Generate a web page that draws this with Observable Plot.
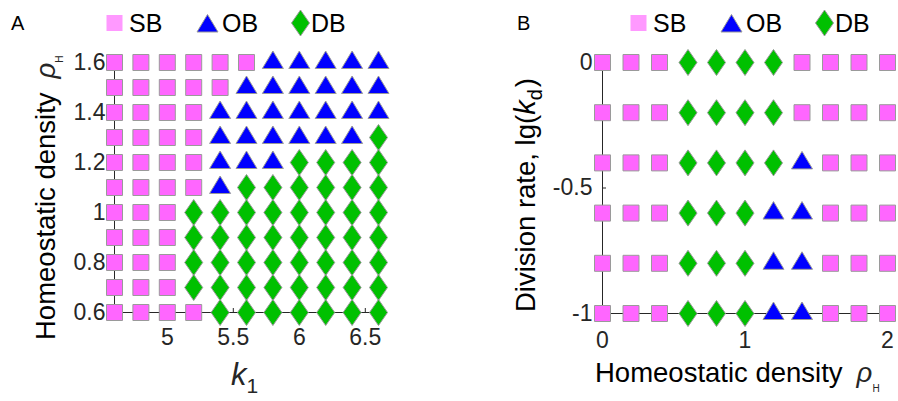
<!DOCTYPE html>
<html><head><meta charset="utf-8">
<script src="https://cdn.jsdelivr.net/npm/d3@7"></script>
<script src="https://cdn.jsdelivr.net/npm/@observablehq/plot@0.6"></script>
<style>
body{margin:0;background:#fff;}
#wrap{position:relative;width:898px;height:401px;overflow:hidden;}
#wrap svg{position:absolute;top:0;}
</style></head><body><div id="wrap"></div>
<script>
// ---------- data ----------
const classNames = ["SB", "OB", "DB"];
const classCodes = {S: "SB", O: "OB", D: "DB"};

// Panel A: k1 (columns) x homeostatic density (rows, top to bottom)
const k1Values = [4.6, 4.8, 5.0, 5.2, 5.4, 5.6, 5.8, 6.0, 6.2, 6.4, 6.6];
const rhoRowsA = [1.6, 1.5, 1.4, 1.3, 1.2, 1.1, 1.0, 0.9, 0.8, 0.7, 0.6];
const gridA = [
  "SSSSSSOOOOO",
  "SSSSSOOOOOO",
  "SSSSOOOOOOO",
  "SSSSOOOOOOD",
  "SSSSOOODDDD",
  "SSSSODDDDDD",
  "SSSDDDDDDDD",
  "SSSDDDDDDDD",
  "SSSDDDDDDDD",
  "SSSDDDDDDDD",
  "SSSSDDDDDDD"
];
const xTicksA = [5, 5.5, 6, 6.5];
const yTicksA = [0.6, 0.8, 1, 1.2, 1.4, 1.6];

// Panel B: homeostatic density (columns) x lg(kd) (rows, top to bottom)
const rhoValuesB = [0, 0.2, 0.4, 0.6, 0.8, 1.0, 1.2, 1.4, 1.6, 1.8, 2.0];
const lgkdRowsB = [0, -0.2, -0.4, -0.6, -0.8, -1.0];
const gridB = [
  "SSSDDDDSSSS",
  "SSSDDDDSSSS",
  "SSSDDDDOSSS",
  "SSSDDDOOSSS",
  "SSSDDDOOSSS",
  "SSSDDDOOSSS"
];
const xTicksB = [0, 1, 2];
const yTicksB = [-1, -0.5, 0];

// ---------- helpers ----------
function toRecords(cols, rows, grid) {
  const out = [];
  rows.forEach((y, i) => cols.forEach((x, j) => out.push({x, y, cls: classCodes[grid[i][j]]})));
  return out;
}
const dataA = toRecords(k1Values, rhoRowsA, gridA);
const dataB = toRecords(rhoValuesB, lgkdRowsB, gridB);

const symSquare = {draw(c) { const h = 8; c.moveTo(-h, -h); c.lineTo(h, -h); c.lineTo(h, h); c.lineTo(-h, h); c.closePath(); }};
const symTriangle = {draw(c) { c.moveTo(0, -11.5); c.lineTo(10.5, 6); c.lineTo(-10.5, 6); c.closePath(); }};
const symDiamond = {draw(c) { c.moveTo(0, -13); c.lineTo(9, 0); c.lineTo(0, 13); c.lineTo(-9, 0); c.closePath(); }};
const styleOf = {
  SB: {symbol: symSquare, fill: "#ff66ff"},
  OB: {symbol: symTriangle, fill: "#0000ff"},
  DB: {symbol: symDiamond, fill: "#00c000"}
};
const FONT = "'Liberation Sans', Arial, Helvetica, sans-serif";
const INK = "#262626";
const fmt = d => String(d);

function panel(data, cols, rows, xTicks, yTicks, m, yPad, xPad) {
  const xDomain = [d3.min(cols), d3.max(cols)];
  const yDomain = [d3.min(rows), d3.max(rows)];
  return Plot.plot({
    width: 449, height: 401,
    marginLeft: m[0], marginRight: m[1], marginTop: m[2], marginBottom: m[3],
    x: {domain: xDomain},
    y: {domain: yDomain},
    style: {fontFamily: FONT, fontSize: "23px", color: INK, overflow: "visible", background: "transparent"},
    marks: [
      Plot.ruleX([xDomain[0]], {stroke: INK, strokeWidth: 1}),
      Plot.ruleY([yDomain[0]], {stroke: INK, strokeWidth: 1}),
      Plot.axisX({ticks: xTicks, tickSize: -4, tickPadding: xPad, tickFormat: fmt, label: null}),
      Plot.axisY({ticks: yTicks, tickSize: -4, tickPadding: yPad, tickFormat: fmt, label: null}),
      ...classNames.map(c => Plot.dot(data.filter(d => d.cls === c), {
        x: "x", y: "y", symbol: styleOf[c].symbol, r: 8,
        fill: styleOf[c].fill, stroke: "#9a9a9a", strokeWidth: 1
      }))
    ]
  });
}

const wrap = document.getElementById("wrap");
const svgA = panel(dataA, k1Values, rhoRowsA, xTicksA, yTicksA, [114, 71, 62, 89], 13, 20);
svgA.style.left = "0px";
wrap.appendChild(svgA);
const svgB = panel(dataB, rhoValuesB, lgkdRowsB, xTicksB, yTicksB, [153, 11, 62, 88], 14, 22);
svgB.style.left = "449px";
wrap.appendChild(svgB);

// ---------- annotation overlay: legends, panel letters, axis titles ----------
const ov = d3.select(wrap).append("svg")
  .attr("width", 898).attr("height", 401)
  .style("left", "0px").style("font-family", FONT).style("overflow", "visible");

function legend(x0, letterX) {
  ov.append("text").attr("x", letterX).attr("y", 30).attr("font-size", 20).attr("fill", "#000").text(x0 === 0 ? "A" : "B");
  const items = [
    {cls: "SB", cx: 114.5, tx: 129, fill: "#ff99ff", stroke: "none", cy: 23},
    {cls: "OB", cx: 207.5, tx: 222, fill: "#0000ff", stroke: "#9a9a9a", cy: 26},
    {cls: "DB", cx: 300.5, tx: 311, fill: "#00c000", stroke: "#9a9a9a", cy: 23}
  ];
  items.forEach(it => {
    ov.append("path")
      .attr("d", d3.symbol(styleOf[it.cls].symbol)())
      .attr("transform", `translate(${x0 + it.cx},${it.cy})`)
      .attr("fill", it.fill).attr("stroke", it.stroke);
    ov.append("text").attr("x", x0 + it.tx).attr("y", 31.5).attr("font-size", 25).attr("fill", "#000").text(it.cls);
  });
}
legend(0, 11);
legend(524, 517);

// Panel A y title
const tA = ov.append("text").attr("transform", "translate(55,340) rotate(-90)").attr("font-size", 27.5).attr("fill", "#000");
tA.append("tspan").text("Homeostatic density");
tA.append("tspan").attr("dx", 14).attr("font-style", "italic").attr("fill", INK).text("ρ");
tA.append("tspan").attr("dy", 8).attr("font-size", 10).attr("fill", INK).text("H");

// Panel A x title: k1
const kA = ov.append("text").attr("x", 231).attr("y", 385).attr("fill", INK);
kA.append("tspan").attr("font-size", 31).attr("font-style", "italic").text("k");
kA.append("tspan").attr("font-size", 21).attr("dy", 8).attr("dx", 0).text("1");

// Panel B x title
const tB = ov.append("text").attr("x", 595).attr("y", 382).attr("font-size", 27.5).attr("fill", "#000");
tB.append("tspan").text("Homeostatic density");
tB.append("tspan").attr("dx", 14).attr("font-style", "italic").attr("fill", INK).text("ρ");
tB.append("tspan").attr("dy", 10).attr("font-size", 10).attr("fill", INK).text("H");

// Panel B y title
const yB = ov.append("text").attr("transform", "translate(535,312) rotate(-90)").attr("font-size", 27.5).attr("fill", "#000");
yB.append("tspan").text("Division rate, lg(");
yB.append("tspan").attr("font-style", "italic").attr("font-size", 29).text("k");
yB.append("tspan").attr("font-size", 20).attr("dy", 7).text("d");
yB.append("tspan").attr("dy", -7).attr("dx", 2).text(")");
</script></body></html>
